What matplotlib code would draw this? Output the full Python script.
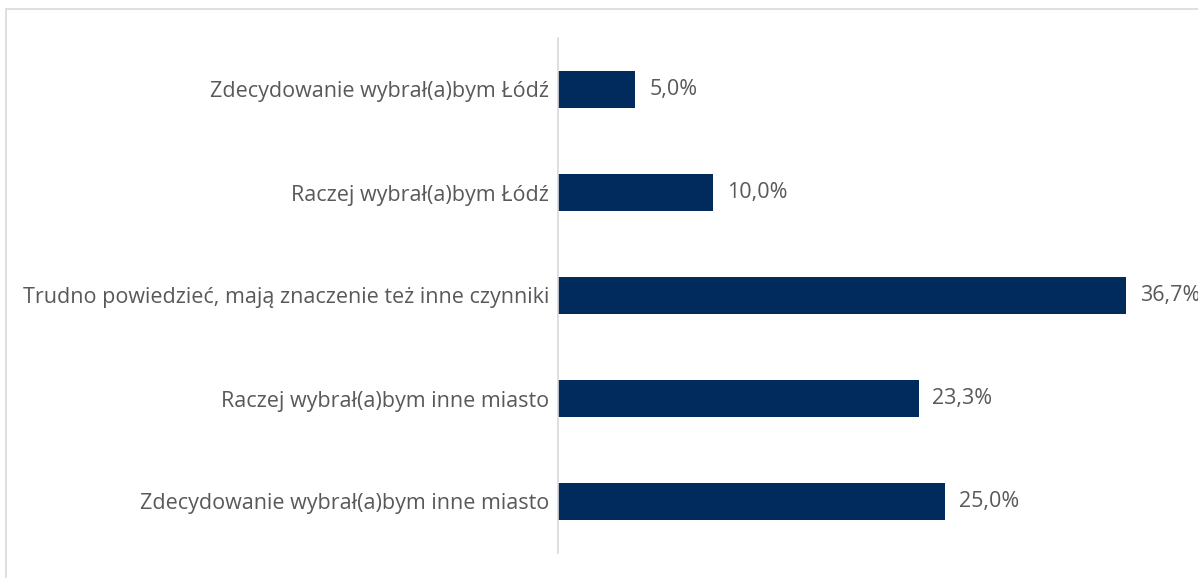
import matplotlib
matplotlib.use("Agg")
import matplotlib.pyplot as plt
from matplotlib.patches import Rectangle

categories = [
    "Zdecydowanie wybrał(a)bym Łódź",
    "Raczej wybrał(a)bym Łódź",
    "Trudno powiedzieć, mają znaczenie też inne czynniki",
    "Raczej wybrał(a)bym inne miasto",
    "Zdecydowanie wybrał(a)bym inne miasto",
]
values = [5.0, 10.0, 36.7, 23.3, 25.0]
value_labels = ["5,0%", "10,0%", "36,7%", "23,3%", "25,0%"]

plt.rcParams['font.family'] = ['Open Sans', 'DejaVu Sans']
text_color = "#595959"
bar_color = "#002B5C"

fig = plt.figure(figsize=(11.98, 5.78), dpi=100)
fig.patches.append(Rectangle((6/1198, -0.05), 1.1, (578-9)/578 + 0.05,
                             transform=fig.transFigure, fill=False,
                             edgecolor="#d9d9d9", linewidth=1.2))
ax = fig.add_axes([558/1198, 25/578, 619/1198, 515/578])

y = list(range(len(categories)))
ax.barh(y, values, height=0.355, color=bar_color)
ax.set_ylim(len(categories) - 0.5, -0.5)
ax.set_xlim(0, 40)
ax.set_yticks(y)
ax.set_yticklabels(categories, fontsize=15.5, color=text_color)
ax.tick_params(axis='y', length=0, pad=6.5)
ax.set_xticks([])
for s in ['top', 'right', 'bottom']:
    ax.spines[s].set_visible(False)
ax.spines['left'].set_color("#d9d9d9")
ax.spines['left'].set_linewidth(1.2)

for yi, v, lab in zip(y, values, value_labels):
    ax.annotate(lab, (v, yi), xytext=(10, 0), textcoords='offset points',
                va='center', ha='left', fontsize=15.5, color=text_color)

fig.savefig("out.png", dpi=100)
